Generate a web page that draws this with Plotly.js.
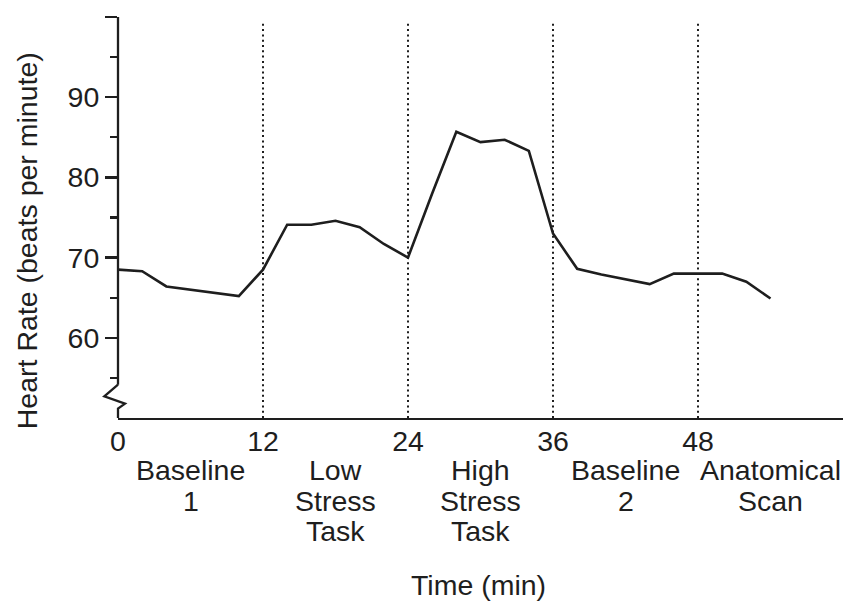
<!DOCTYPE html>
<html>
<head>
<meta charset="utf-8">
<script src="https://cdn.plot.ly/plotly-3.0.1.min.js"></script>
<style>
  html, body { margin: 0; padding: 0; background: #fff; }
  #chart { width: 846px; height: 605px; }
</style>
</head>
<body>
<div id="chart"></div>
<script>
// ---- data ----
var timeMin = [0, 2, 4, 6, 8, 10, 12, 14, 16, 18, 20, 22, 24, 26, 28, 30, 32, 34, 36, 38, 40, 42, 44, 46, 48, 50, 52, 54];
var heartRate = [68.5, 68.3, 66.4, 66.0, 65.6, 65.2, 68.5, 74.1, 74.1, 74.6, 73.8, 71.7, 70.0, 78.0, 85.7, 84.4, 84.7, 83.3, 73.0, 68.6, 67.9, 67.3, 66.7, 68.0, 68.0, 68.0, 67.0, 64.9];
var phaseBoundaries = [12, 24, 36, 48];
var phaseCenters = [6, 18, 30, 42, 54];
var phaseLabels = [["Baseline", "1"], ["Low", "Stress", "Task"], ["High", "Stress", "Task"], ["Baseline", "2"], ["Anatomical", "Scan"]];
var xTickVals = [0, 12, 24, 36, 48];
var xTickText = ["0", "12", "24", "36", "48"];
var yTickVals = [60, 70, 80, 90, 100];
var yTickText = ["60", "70", "80", "90", ""];
var yMinorVals = [55, 65, 75, 85, 95];
var xTitle = "Time (min)";
var yTitle = "Heart Rate (beats per minute)";

// ---- layout constants ----
var W = 846, H = 605;
var mL = 118, mR = 3, mT = 16.5, mB = 187;
var plotW = W - mL - mR, plotH = H - mT - mB;
var yRange = [50, 100];
var xRange = [0, 60];
var ink = '#1e1e1e';
var FONT = 'Liberation Sans, Arial, Helvetica, sans-serif';
var FS = 28.5;

function yPaper(v) { return (v - yRange[0]) / (yRange[1] - yRange[0]); }
function pxX(p) { return p / plotW; }
function pxY(p) { return p / plotH; }

var shapes = [];
// dotted phase boundaries
phaseBoundaries.forEach(function (b) {
  shapes.push({
    type: 'line', xref: 'x', yref: 'paper', x0: b, x1: b, y0: 0, y1: 1 - pxY(3.5),
    line: { color: ink, width: 2, dash: '2px,3.3px' }, layer: 'below'
  });
});
// y axis line with break (zigzag) near the bottom
var breakTop = yPaper(54.15);
shapes.push({
  type: 'line', xref: 'paper', yref: 'paper', x0: 0, x1: 0, y0: breakTop, y1: 1,
  line: { color: ink, width: 2.3 }
});
var zz = [
  [0, breakTop],
  [pxX(-13.7), breakTop - pxY(11.7)],
  [pxX(7), breakTop - pxY(19)],
  [0, breakTop - pxY(24)],
  [0, 0]
];
var pathStr = 'M' + zz.map(function (p) { return p[0] + ',' + p[1]; }).join(' L');
shapes.push({
  type: 'path', xref: 'paper', yref: 'paper', path: pathStr,
  line: { color: ink, width: 2.3 }
});

var annotations = [];
// phase labels, one annotation per line
var lineTop = 470, lineGap = 30.5;
phaseLabels.forEach(function (lines, i) {
  lines.forEach(function (txt, j) {
    annotations.push({
      xref: 'x', yref: 'paper', x: phaseCenters[i], y: 0,
      yanchor: 'middle', xanchor: 'center',
      yshift: -((lineTop + j * lineGap) - (H - mB)),
      text: txt, showarrow: false,
      font: { family: FONT, size: FS, color: ink }
    });
  });
});
// x title
annotations.push({
  xref: 'paper', yref: 'paper', x: (478 - mL) / plotW, y: 0,
  yanchor: 'middle', xanchor: 'center', yshift: -(585 - (H - mB)),
  text: xTitle, showarrow: false, font: { family: FONT, size: FS, color: ink }
});
// y title
annotations.push({
  xref: 'paper', yref: 'paper', x: 0, y: ((H - mB) - 241) / plotH,
  xanchor: 'center', yanchor: 'middle', xshift: -(mL - 27), textangle: -90,
  text: yTitle, showarrow: false, font: { family: FONT, size: FS, color: ink }
});

var trace = {
  x: timeMin, y: heartRate, type: 'scatter', mode: 'lines',
  line: { color: ink, width: 2.6, shape: 'linear' },
  hoverinfo: 'skip', cliponaxis: false
};

var layout = {
  width: W, height: H,
  margin: { l: mL, r: mR, t: mT, b: mB, pad: 0 },
  paper_bgcolor: '#fff', plot_bgcolor: '#fff',
  showlegend: false,
  font: { family: FONT, size: FS, color: ink },
  xaxis: {
    range: xRange, showgrid: false, zeroline: false,
    showline: true, linecolor: ink, linewidth: 2.3,
    ticks: '', tickvals: xTickVals, ticktext: xTickText,
    ticklabelstandoff: -4,
    tickfont: { family: FONT, size: FS, color: ink },
    automargin: false, fixedrange: true
  },
  yaxis: {
    range: yRange, showgrid: false, zeroline: false, showline: false,
    ticks: 'outside', ticklen: 12, tickwidth: 2.3, tickcolor: ink,
    tickvals: yTickVals, ticktext: yTickText,
    ticklabelstandoff: 0,
    minor: { tickvals: yMinorVals, ticks: 'outside', ticklen: 7, tickwidth: 2.3, tickcolor: ink, showgrid: false },
    tickfont: { family: FONT, size: FS, color: ink },
    automargin: false, fixedrange: true
  },
  shapes: shapes,
  annotations: annotations
};

Plotly.newPlot('chart', [trace], layout, { displayModeBar: false, staticPlot: true });
</script>
</body>
</html>
